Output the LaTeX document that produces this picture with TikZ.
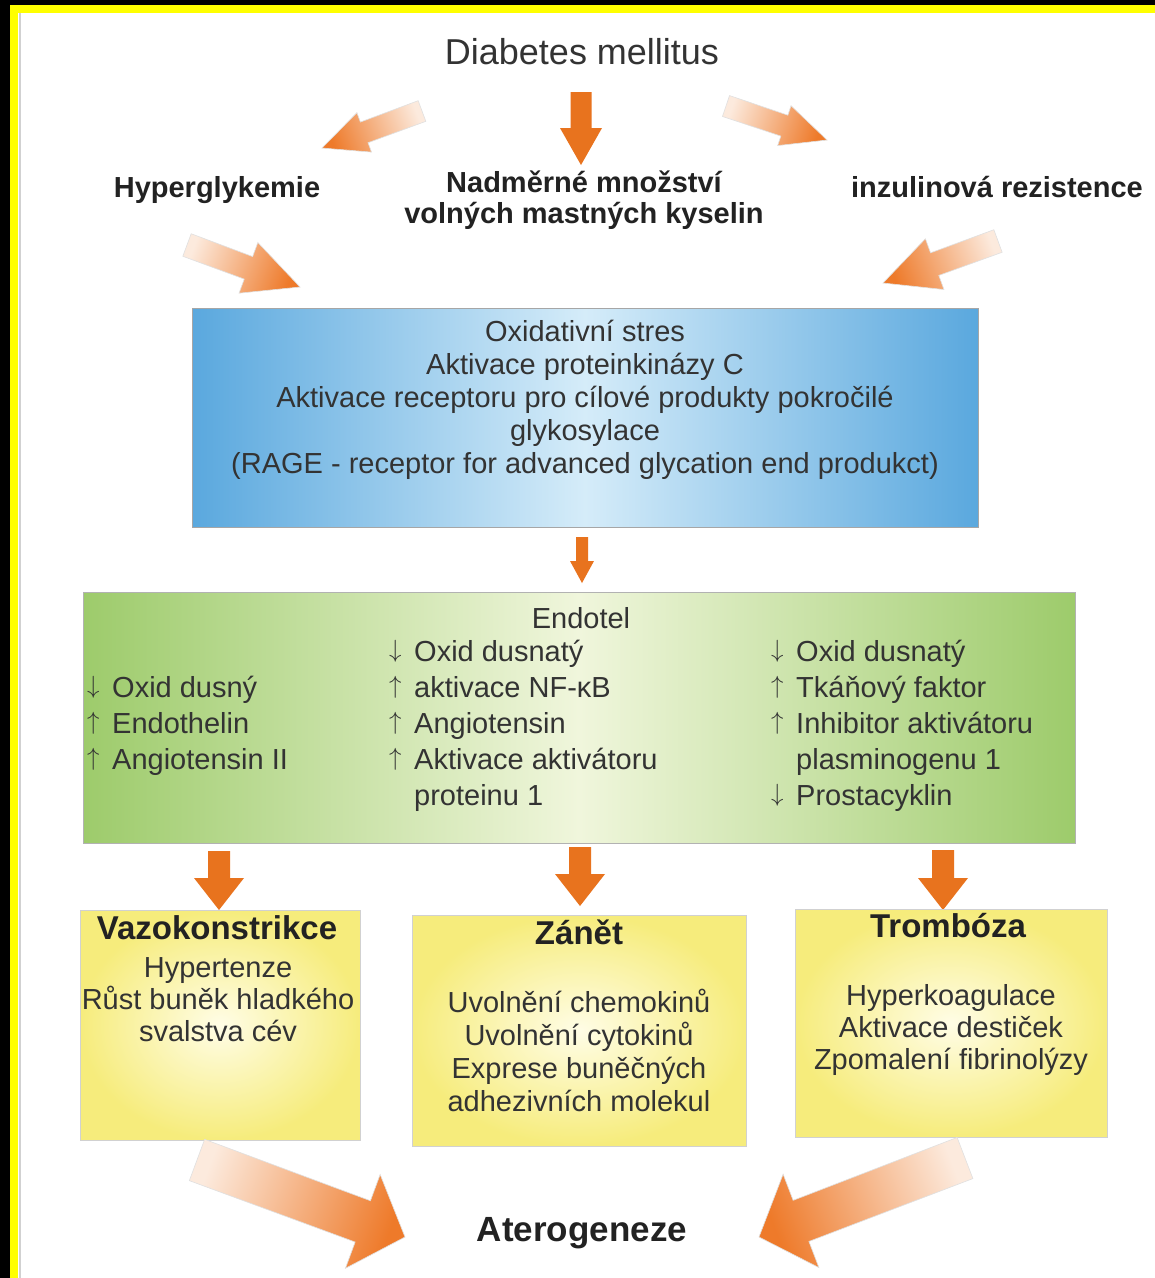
\documentclass[tikz,border=0pt]{standalone}
\usepackage{fontspec}
\setmainfont{Liberation Sans}
\usetikzlibrary{calc}

\definecolor{arrowor}{HTML}{E8731E}
\definecolor{arrowpale}{HTML}{FCEADD}
\definecolor{arrowhead}{HTML}{EE7A2A}
\definecolor{blueedge}{HTML}{5AA8DE}
\definecolor{bluemid}{HTML}{D5ECF9}
\definecolor{greenedge}{HTML}{9DCB6B}
\definecolor{greenmid}{HTML}{F0F6DC}
\definecolor{yellowedge}{HTML}{F6EC7C}
\definecolor{yellowmid}{HTML}{FFFDE6}
\definecolor{textgrey}{HTML}{333333}
\definecolor{headgrey}{HTML}{222222}
\definecolor{frameyellow}{HTML}{FFFF00}

\tikzset{
  txt/.style={font=\fontsize{29}{33}\selectfont, text=textgrey, inner sep=0pt},
  head/.style={font=\fontsize{29}{31}\selectfont\bfseries, text=headgrey, inner sep=0pt},
  bluebox/.style={draw=black!35, line width=1pt, left color=blueedge, right color=blueedge, middle color=bluemid},
  greenbox/.style={draw=black!30, line width=1pt, left color=greenedge, right color=greenedge, middle color=greenmid},
  yellowbox/.style={draw=black!18, line width=1pt, inner color=yellowmid, outer color=yellowedge},
  solidarrow/.style={top color=arrowor, bottom color=arrowor},
  softarrow/.style={top color=arrowhead, bottom color=arrowpale, draw=black!12, line width=0.6pt}
}

% block arrow: style, tail, tip, shaft half width, head half width, head length
\newcommand{\fatarrow}[6]{%
  \pgfmathanglebetweenpoints{\pgfpointanchor{#2}{center}}{\pgfpointanchor{#3}{center}}%
  \pgfmathsetmacro{\fatangle}{\pgfmathresult-90}%
  \coordinate (hb) at ($(#3)!#6!(#2)$);
  \path[#1, shading angle=\fatangle] ($(#2)!#4!90:(#3)$) -- ($(hb)!#4!90:(#3)$)
    -- ($(hb)!#5!90:(#3)$) -- (#3) -- ($(hb)!#5!-90:(#3)$) -- ($(hb)!#4!-90:(#3)$)
    -- ($(#2)!#4!-90:(#3)$) -- cycle;
}
\newcommand{\dnar}{\makebox[25pt][l]{\raisebox{4pt}{$\downarrow$}}}
\newcommand{\upar}{\makebox[25pt][l]{\raisebox{4pt}{$\uparrow$}}}
\newcommand{\noar}{\hspace*{25pt}}

\begin{document}
\begin{tikzpicture}[x=1pt,y=-1pt]
  \useasboundingbox (0,0) rectangle (1155,1278);
  \fill[black] (0,0) rectangle (1155,1278);
  \fill[frameyellow] (10,5) rectangle (1155,1278);
  \fill[white] (18,13) rectangle (1155,1278);
  \draw[black!18, line width=2pt] (20,13) -- (20,1278);

  % causes
  \node[txt, font=\fontsize{36}{40}\selectfont] (dm) at (582,52) {Diabetes mellitus};
  \node[head] (hyp) at (217,190) {Hyperglykemie};
  \node[head, align=center] (nmk) at (584,200) {Nadměrné množství\\volných mastných kyselin};
  \node[head] (ir) at (997,187) {inzulinová rezistence};

  \coordinate (t1) at (422,111); \coordinate (h1) at (322,148);
  \coordinate (t2) at (581,92);  \coordinate (h2) at (581,165);
  \coordinate (t3) at (726,106); \coordinate (h3) at (827,140);
  \fatarrow{softarrow}{t1}{h1}{11pt}{21pt}{45pt}
  \fatarrow{solidarrow}{t2}{h2}{10.5pt}{21pt}{37pt}
  \fatarrow{softarrow}{t3}{h3}{11pt}{21pt}{45pt}

  \coordinate (t4) at (187,245); \coordinate (h4) at (300,287);
  \coordinate (t5) at (998,241); \coordinate (h5) at (883,283);
  \fatarrow{softarrow}{t4}{h4}{12pt}{27pt}{55pt}
  \fatarrow{softarrow}{t5}{h5}{12pt}{27pt}{55pt}

  % mechanisms
  \node[bluebox, minimum width=786, minimum height=219] (ox) at (585,417.5) {};
  \node[txt, align=center] (oxt) at (585,400) {Oxidativní stres\\Aktivace proteinkinázy C\\Aktivace receptoru pro cílové produkty pokročilé\\glykosylace\\(RAGE - receptor for advanced glycation end produkct)};

  \coordinate (t6) at (582,537); \coordinate (h6) at (582,583);
  \fatarrow{solidarrow}{t6}{h6}{6pt}{12pt}{22pt}

  % endothelium
  \node[greenbox, minimum width=992, minimum height=251] (endo) at (579,717.5) {};
  \node[txt] (endot) at (581,618) {Endotel};
  \node[txt, font=\fontsize{29}{36}\selectfont, align=left, anchor=west] (col1) at (87,726)
    {\dnar Oxid dusný\\\upar Endothelin\\\upar Angiotensin II};
  \node[txt, font=\fontsize{29}{36}\selectfont, align=left, anchor=west] (col2) at (389,726)
    {\dnar Oxid dusnatý\\\upar aktivace NF-κB\\\upar Angiotensin\\\upar Aktivace aktivátoru\\\noar proteinu 1};
  \node[txt, font=\fontsize{29}{36}\selectfont, align=left, anchor=west] (col3) at (771,726)
    {\dnar Oxid dusnatý\\\upar Tkáňový faktor\\\upar Inhibitor aktivátoru\\\noar plasminogenu 1\\\dnar Prostacyklin};

  \coordinate (t7) at (219,851); \coordinate (h7) at (219,910);
  \coordinate (t8) at (580,847); \coordinate (h8) at (580,906);
  \coordinate (t9) at (943,850); \coordinate (h9) at (943,910);
  \fatarrow{solidarrow}{t7}{h7}{11pt}{25pt}{32pt}
  \fatarrow{solidarrow}{t8}{h8}{11pt}{25pt}{32pt}
  \fatarrow{solidarrow}{t9}{h9}{11pt}{25pt}{32pt}

  % consequences
  \node[yellowbox, minimum width=280, minimum height=230] (vaz) at (220,1025) {};
  \node[head, font=\fontsize{33}{36}\selectfont\bfseries] (vazt) at (217,928) {Vazokonstrikce};
  \node[txt, font=\fontsize{29}{32}\selectfont, align=center] (vazb) at (218,1000)
    {Hypertenze\\Růst buněk hladkého\\svalstva cév};

  \node[yellowbox, minimum width=334, minimum height=231] (zan) at (579,1030.5) {};
  \node[head, font=\fontsize{33}{36}\selectfont\bfseries] (zant) at (579,932) {Zánět};
  \node[txt, font=\fontsize{29}{33}\selectfont, align=center] (zanb) at (579,1050)
    {Uvolnění chemokinů\\Uvolnění cytokinů\\Exprese buněčných\\adhezivních molekul};

  \node[yellowbox, minimum width=312, minimum height=228] (tro) at (951,1023) {};
  \node[head, font=\fontsize{33}{36}\selectfont\bfseries] (trot) at (948,926) {Trombóza};
  \node[txt, font=\fontsize{29}{32}\selectfont, align=center] (trob) at (951,1030)
    {Hyperkoagulace\\Aktivace destiček\\Zpomalení fibrinolýzy};

  % outcome
  \coordinate (t10) at (197,1160); \coordinate (h10) at (405,1237);
  \coordinate (t11) at (965,1158); \coordinate (h11) at (759,1237);
  \fatarrow{softarrow}{t10}{h10}{22pt}{50pt}{45pt}
  \fatarrow{softarrow}{t11}{h11}{22pt}{50pt}{45pt}
  \node[head, font=\fontsize{35}{38}\selectfont\bfseries] (ater) at (582,1233) {Aterogeneze};
\end{tikzpicture}
\end{document}
